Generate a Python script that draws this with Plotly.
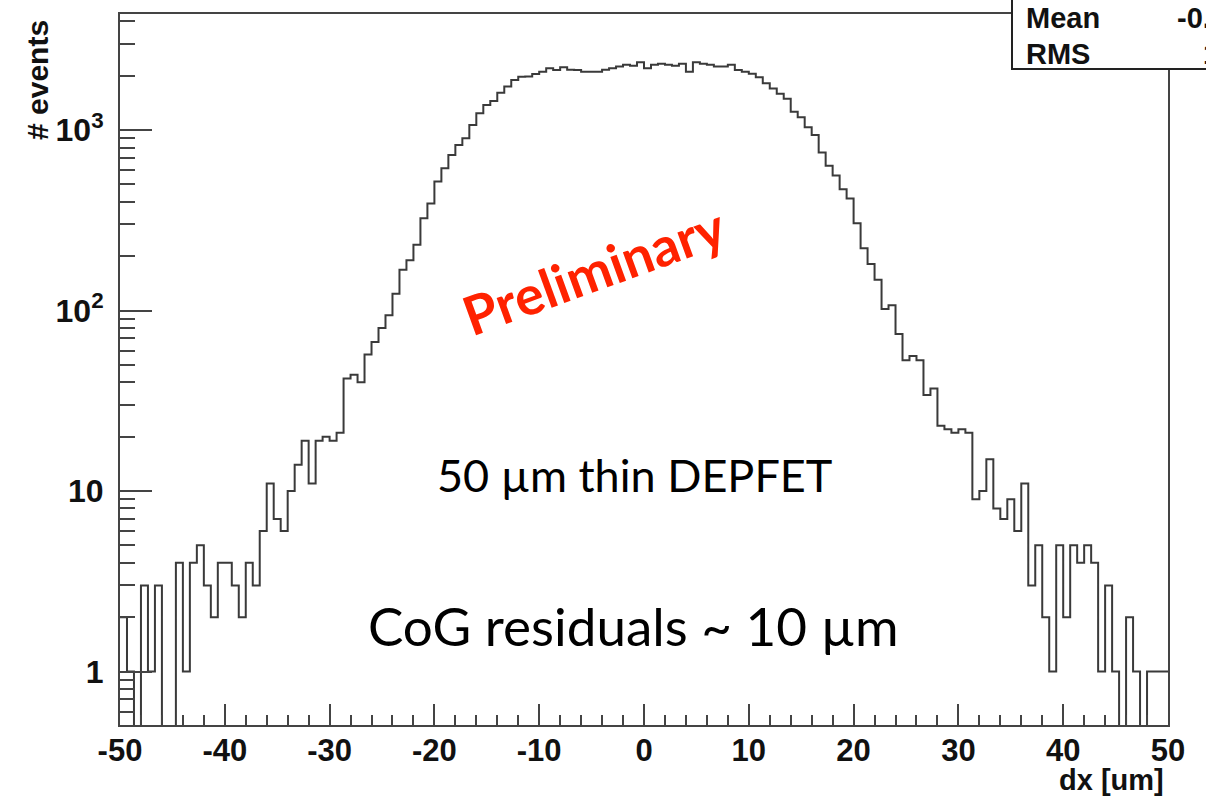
import numpy as np
import plotly.graph_objects as go

# ---------------- data ----------------
x_lo, x_hi = -50.0, 50.0
n_bins = 150
counts = [
    2, 1, 0, 3, 1, 3, 0, 0, 4, 1,
    4, 5, 3, 2, 4, 4, 3, 2, 4, 3,
    6, 11, 7, 6, 10, 14, 19, 11, 19, 20,
    19, 21, 42, 44, 40, 57, 67, 80, 94, 124,
    168, 190, 231, 324, 392, 518, 614, 728, 826, 900,
    1067, 1237, 1376, 1450, 1610, 1740, 1890, 1975, 1980, 2044,
    2105, 2197, 2150, 2225, 2160, 2150, 2100, 2100, 2100, 2160,
    2200, 2250, 2300, 2270, 2370, 2200, 2300, 2330, 2300, 2270,
    2330, 2100, 2370, 2330, 2300, 2250, 2250, 2300, 2150, 2100,
    2050, 1960, 1815, 1700, 1590, 1490, 1262, 1175, 1035, 938,
    750, 634, 560, 470, 418, 304, 221, 181, 148, 102,
    107, 74, 53, 56, 53, 34, 37, 23, 22, 21,
    22, 21, 9, 10, 15, 8, 7, 9, 6, 11,
    3, 5, 2, 1, 5, 2, 5, 4, 5, 4,
    1, 3, 1, 0, 2, 1, 0, 1, 1, 1,
]
x_tick_vals = [-50, -40, -30, -20, -10, 0, 10, 20, 30, 40, 50]
x_tick_text = ["-50", "-40", "-30", "-20", "-10", "0", "10", "20", "30", "40", "50"]
y_tick_vals = [1, 10, 100, 1000]
y_tick_text = ["1", "10", "10<sup>2</sup>", "10<sup>3</sup>"]
y_minor_vals = [0.6, 0.7, 0.8, 0.9] + [m * 10 ** e for e in range(0, 4) for m in range(2, 10) if m * 10 ** e < 4400]
stats_labels = ["Mean", "RMS"]
stats_values = ["-0.2", "10.1"]

# ---------------- geometry helpers ----------------
W, H = 1206, 797
L, R, T, B = 120, 1168, 14, 725


def px(xp, yp):
    return (xp - L) / (R - L), (B - yp) / (B - T)


edges = np.linspace(x_lo, x_hi, n_bins + 1)
c = np.array(counts, dtype=float)
y_plot = np.where(c > 0, c, 0.05)
y_step = np.append(y_plot, y_plot[-1])

fig = go.Figure()
fig.add_trace(go.Scatter(
    x=edges, y=y_step, mode="lines", line_shape="hv",
    line=dict(color="#3a3a3a", width=2.0), showlegend=False, hoverinfo="skip",
))

x_tick_font = dict(family="Liberation Sans", size=31, color="#111", weight=700)
y_tick_font = dict(family="Liberation Sans", size=32, color="#111", weight=700)

fig.update_layout(
    width=W, height=H,
    margin=dict(l=L, r=W - R, t=T, b=H - B),
    paper_bgcolor="white", plot_bgcolor="white",
    showlegend=False,
    xaxis=dict(
        range=[x_lo, x_hi], tickmode="array", tickvals=x_tick_vals, ticktext=x_tick_text,
        ticks="inside", ticklen=21, tickwidth=1.5, tickcolor="#444",
        minor=dict(dtick=2, tick0=0, ticks="inside", ticklen=10, tickwidth=1.5, tickcolor="#444", showgrid=False),
        showgrid=False, zeroline=False, showline=True, linecolor="#444", linewidth=2, mirror=True,
        tickfont=x_tick_font, ticklabelstandoff=-3,
    ),
    yaxis=dict(
        type="log", range=[-0.2964, 3.6427], tickmode="array", tickvals=y_tick_vals, ticktext=y_tick_text,
        ticks="inside", ticklen=32, tickwidth=1.5, tickcolor="#444",
        minor=dict(tickmode="array", tickvals=y_minor_vals, ticks="inside", ticklen=15, tickwidth=1.5,
                   tickcolor="#444", showgrid=False),
        showgrid=False, zeroline=False, showline=True, linecolor="#444", linewidth=2, mirror=True,
        tickfont=y_tick_font, ticklabelstandoff=8,
    ),
)

# stats box (cut at the right edge like the reference)
bx0, by0 = px(1012, 69)
bx1, by1 = px(1260, -20)
fig.add_shape(type="rect", xref="paper", yref="paper", x0=bx0, y0=by0, x1=bx1, y1=by1,
              fillcolor="white", line=dict(color="#222", width=2), layer="above")

ann = []
stat_font = dict(family="Liberation Sans", size=29, color="#111", weight=700)
for i, (lab, val) in enumerate(zip(stats_labels, stats_values)):
    yy = 18 + 36 * i
    ax, ay = px(1024, yy)
    ann.append(dict(x=ax, y=ay, text=lab, xanchor="left", yanchor="middle", font=stat_font))
    vx, vy = px(1175 if i == 0 else 1201, yy)
    ann.append(dict(x=vx, y=vy, text=val, xanchor="left", yanchor="middle", font=stat_font))

# axis titles
tx, ty = px(38, 80)
ann.append(dict(x=tx, y=ty, text="# events", textangle=-90, xanchor="center", yanchor="middle",
                font=dict(family="Liberation Sans", size=30, color="#111", weight=700)))
tx, ty = px(1166, 780)
ann.append(dict(x=tx, y=ty, text="dx [um]", xanchor="right", yanchor="middle",
                font=dict(family="Liberation Sans", size=29, color="#111", weight=700)))

# in-plot texts
tx, ty = px(594, 271)
ann.append(dict(x=tx, y=ty, text="Preliminary", textangle=-20, xanchor="center", yanchor="middle",
                font=dict(family="Lato", size=54, color="#ff2200", weight=700)))
tx, ty = px(634, 475)
ann.append(dict(x=tx, y=ty, text="50 µm thin DEPFET", xanchor="center", yanchor="middle",
                font=dict(family="Lato", size=45, color="black")))
tx, ty = px(633, 625)
ann.append(dict(x=tx, y=ty, text="CoG residuals ~ 10 µm", xanchor="center", yanchor="middle",
                font=dict(family="Lato", size=53, color="black")))

for a in ann:
    a.update(xref="paper", yref="paper", showarrow=False)
fig.update_layout(annotations=ann)

fig.write_html("out.html")
